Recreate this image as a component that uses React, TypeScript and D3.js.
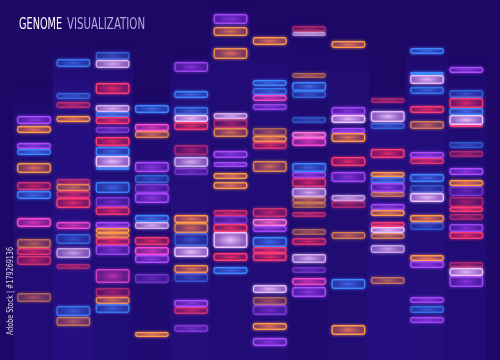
import React from "react";
import * as d3 from "d3";

type Band = [number, number, string, number];

const title1 = "GENOME";
const title2 = "VISUALIZATION";
const sideText = "Adobe Stock | #179269136";

const lane1: Band[] = [[116,8,'p',1],[126,7,'o',1],[143,6,'p',1],[149,6,'b',1],[163,10,'o',0.9],[182,8,'r',0.7],[191,8,'b',1],[218,9,'m',1],[239,9,'o',0.6],[248,7,'r',0.8],[256,9,'r',0.7],[293,9,'o',0.5]];
const lane2: Band[] = [[59,8,'b',0.8],[93,6,'b',0.6],[102,6,'r',0.6],[116,6,'o',1],[179,6,'r',0.6],[184,7,'o',0.7],[191,7,'r',0.7],[198,10,'r',1],[222,7,'m',0.9],[234,10,'b',0.6],[248,10,'w',0.7],[264,5,'r',0.5],[306,10,'b',0.8],[317,9,'o',0.6]];
const lane3: Band[] = [[52,8,'b',0.6],[60,8,'w',0.8],[83,11,'r',1],[105,7,'w',0.8],[112,5,'b',0.8],[117,7,'r',1],[127,6,'p',0.6],[137,9,'r',1],[147,9,'b',1],[156,11,'w',1],[167,3,'b',0.8],[182,11,'b',0.9],[197,10,'p',0.6],[207,8,'r',0.9],[222,6,'p',1],[228,5,'o',1],[233,5,'o',0.8],[238,7,'r',0.9],[245,10,'p',0.8],[269,14,'m',0.7],[288,9,'r',0.5],[297,7,'o',0.8],[304,9,'b',0.8]];
const lane4: Band[] = [[105,8,'b',1],[124,7,'m',1],[131,7,'o',0.8],[162,10,'p',1],[175,8,'b',0.6],[184,9,'p',0.6],[193,10,'p',1],[215,7,'b',1],[222,7,'w',0.8],[237,8,'r',0.9],[247,8,'m',1],[255,8,'p',1],[274,9,'p',0.5],[332,5,'o',1]];
const lane5: Band[] = [[62,10,'p',0.8],[91,7,'b',1],[107,8,'b',0.8],[115,7,'w',1],[122,8,'r',1],[145,10,'r',0.5],[157,10,'w',0.8],[168,7,'p',0.5],[215,8,'o',1],[223,10,'o',0.8],[233,13,'b',0.6],[247,10,'w',1],[265,8,'o',0.9],[273,9,'b',0.5],[300,7,'p',1],[307,7,'r',0.7],[325,7,'p',0.6]];
const lane6: Band[] = [[14,10,'p',0.9],[27,9,'o',0.9],[48,11,'o',0.9],[113,6,'w',0.8],[119,9,'r',0.5],[128,9,'o',0.8],[151,7,'p',1],[162,5,'p',0.9],[173,6,'o',1],[182,7,'o',1],[210,6,'r',0.7],[216,8,'p',0.5],[224,8,'r',1],[232,16,'w',1],[253,8,'r',1],[267,7,'b',1]];
const lane7: Band[] = [[37,8,'o',1],[80,6,'b',1],[88,7,'b',0.8],[95,6,'m',0.9],[104,6,'p',0.8],[128,8,'o',0.5],[136,6,'o',0.9],[142,7,'r',0.8],[161,11,'o',0.8],[208,9,'r',0.7],[219,7,'k',1],[226,6,'p',0.9],[237,10,'b',1],[247,6,'r',0.9],[253,8,'r',1],[285,8,'w',0.9],[297,8,'o',0.5],[305,10,'p',0.6],[323,7,'o',1],[338,8,'p',1]];
const lane8: Band[] = [[26,6,'r',0.5],[32,4,'w',0.6],[73,5,'o',0.5],[82,9,'b',1],[91,7,'b',0.6],[117,6,'b',0.5],[132,6,'k',1],[138,8,'m',1],[163,9,'b',1],[172,6,'p',0.8],[178,9,'r',0.8],[188,9,'w',0.8],[197,6,'o',0.6],[203,5,'o',0.5],[212,5,'r',0.6],[229,6,'o',0.5],[238,7,'r',0.8],[254,9,'w',0.8],[267,6,'p',0.5],[278,7,'m',0.9],[287,10,'p',1]];
const lane9: Band[] = [[41,7,'o',1],[107,8,'p',0.9],[115,8,'w',1],[128,5,'p',0.9],[133,9,'o',1],[157,9,'r',1],[172,10,'p',0.9],[195,6,'w',0.7],[201,7,'r',0.5],[232,7,'o',0.7],[279,10,'b',1],[325,10,'o',1]];
const lane10: Band[] = [[98,5,'r',0.5],[111,11,'w',0.9],[123,6,'b',0.6],[149,9,'r',1],[172,5,'o',1],[177,6,'b',0.8],[183,9,'p',1],[192,5,'o',0.6],[204,6,'p',0.9],[210,6,'o',1],[222,5,'r',1],[227,6,'w',1],[233,6,'o',0.7],[245,8,'w',0.7],[277,7,'o',0.6]];
const lane11: Band[] = [[48,6,'b',1],[72,3,'b',1],[75,9,'w',0.9],[87,7,'b',0.8],[106,7,'r',1],[121,8,'o',0.7],[152,6,'p',1],[158,6,'r',0.8],[174,8,'b',1],[185,8,'b',0.5],[193,9,'w',1],[215,7,'o',1],[222,8,'b',0.5],[255,6,'o',1],[261,7,'p',1],[297,6,'p',0.9],[306,7,'b',0.7],[317,6,'p',0.9]];
const lane12: Band[] = [[67,6,'p',1],[90,8,'b',0.6],[98,10,'r',0.9],[108,7,'b',1],[115,10,'w',1],[125,2,'r',0.9],[142,6,'b',0.5],[151,6,'r',0.5],[168,7,'p',1],[180,6,'o',1],[186,10,'p',0.5],[197,10,'r',0.5],[207,5,'r',1],[214,6,'r',0.5],[224,8,'p',0.8],[232,7,'r',1],[262,6,'r',0.5],[268,8,'w',1],[276,11,'p',0.9]];

const lanes = [lane1, lane2, lane3, lane4, lane5, lane6, lane7, lane8, lane9, lane10, lane11, lane12];
const laneTops = [85, 48, 45, 95, 55, 5, 30, 20, 35, 88, 40, 58];
const laneShades = ["#200c74", "#250f80", "#210d78", "#1f0b72", "#230e7a", "#200c74", "#220d78", "#1f0b70", "#210c74", "#250f80", "#230e7c", "#200c74"];

const palette: Record<string, { stroke: string; center: string; edge: string }> = {
  o: { stroke: "#ff9c4c", center: "#e8785a", edge: "#6a2462" },
  b: { stroke: "#3c88ff", center: "#3f6ce8", edge: "#24229a" },
  p: { stroke: "#ac4cff", center: "#9236e6", edge: "#401696" },
  m: { stroke: "#ff4cd4", center: "#d838b8", edge: "#5c1888" },
  r: { stroke: "#ff3a74", center: "#e82a6c", edge: "#5c1060" },
  w: { stroke: "#efc6ff", center: "#eec4fa", edge: "#8a4cc8" },
  k: { stroke: "#ff7cdc", center: "#f866c8", edge: "#7a2494" },
};

const W = 500, H = 360;
const FONT = "'DejaVu Sans Condensed', 'DejaVu Sans', sans-serif";

function FitText({ x, y, width, fill, children }: { x: number; y: number; width: number; fill: string; children: string }) {
  const ref = React.useRef<SVGTextElement>(null);
  const [sx, setSx] = React.useState(0.72);
  React.useLayoutEffect(() => {
    if (ref.current) {
      const w = ref.current.getComputedTextLength();
      if (w > 0) setSx(width / w);
    }
  }, [width, children]);
  return (
    <text ref={ref} transform={`translate(${x},${y}) scale(${sx},1)`} fontFamily={FONT} fontSize={15} fill={fill}>
      {children}
    </text>
  );
}

export default function App() {
  const x = d3.scaleBand<number>().domain(d3.range(lanes.length)).range([17, 483.3]).paddingInner(0.135).paddingOuter(0);
  const y = d3.scaleLinear().domain([0, 360]).range([0, 360]);
  const bw = x.bandwidth();
  return (
    <svg width={W} height={H} style={{ position: "absolute", left: 0, top: 0, display: "block" }}>
      <defs>
        <filter id="glow" x="-20%" y="-50%" width="140%" height="200%">
          <feGaussianBlur in="SourceGraphic" stdDeviation="1.8" result="b" />
          <feMerge>
            <feMergeNode in="b" />
            <feMergeNode in="SourceGraphic" />
          </feMerge>
        </filter>
        {Object.entries(palette).map(([k, c]) => (
          <radialGradient key={k} id={"g" + k} cx="50%" cy="50%" r="60%">
            <stop offset="0%" stopColor={c.center} stopOpacity={0.9} />
            <stop offset="100%" stopColor={c.edge} stopOpacity={0.5} />
          </radialGradient>
        ))}
        <linearGradient id="laneFade" x1="0" y1="0" x2="0" y2="1">
          <stop offset="0%" stopColor="#ffffff" stopOpacity={0} />
          <stop offset="12%" stopColor="#ffffff" stopOpacity={1} />
          <stop offset="100%" stopColor="#ffffff" stopOpacity={1} />
        </linearGradient>
        <mask id="fadeMask" maskContentUnits="objectBoundingBox">
          <rect width={1} height={1} fill="url(#laneFade)" />
        </mask>
      </defs>
      <rect width={W} height={H} fill="#1d0866" />
      {lanes.map((_, i) => (
        <rect key={i} x={(x(i) as number) - 4} y={laneTops[i]} width={bw + 8} height={H - laneTops[i]} fill={laneShades[i]} mask="url(#fadeMask)" />
      ))}
      <g filter="url(#glow)">
        {lanes.map((lane, i) =>
          lane.map((b, j) => {
            const c = palette[b[2]];
            return (
              <rect
                key={i + "-" + j}
                x={(x(i) as number) + 0.75}
                y={y(b[0]) + 0.75}
                width={bw - 1.5}
                height={y(b[0] + b[1]) - y(b[0]) - 1.5}
                rx={1.8}
                fill={"url(#g" + b[2] + ")"}
                stroke={c.stroke}
                strokeWidth={1.3}
                opacity={b[3]}
              />
            );
          })
        )}
      </g>
      <FitText x={19} y={29} width={43} fill="#ffffff">{title1}</FitText>
      <FitText x={67} y={29} width={78} fill="#b4aad6">{title2}</FitText>
      <text transform="translate(13,335) rotate(-90)" fontFamily="'DejaVu Sans', sans-serif" fontSize={9} fill="#d8d4ea" textLength={88} lengthAdjust="spacingAndGlyphs">{sideText}</text>
    </svg>
  );
}
